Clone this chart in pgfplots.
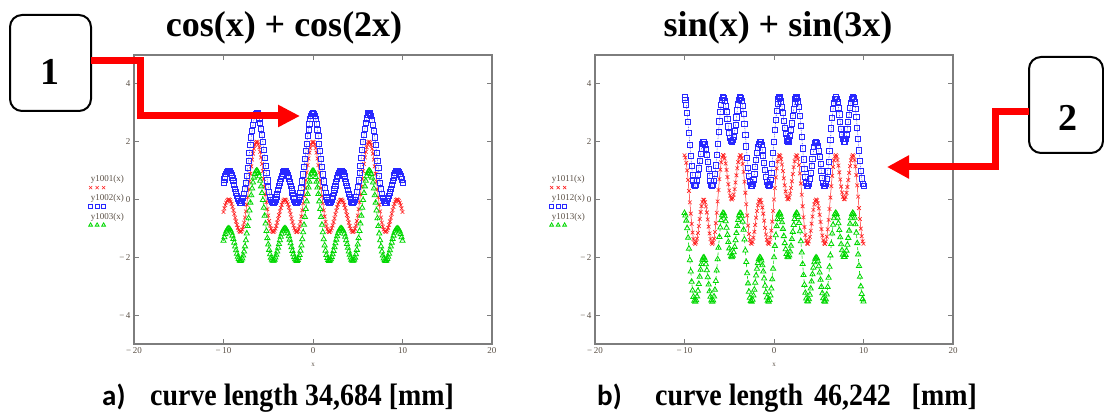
\documentclass[border=0pt]{standalone}
\usepackage{fontspec}
\setmainfont{Liberation Serif}
\newfontfamily\capfont[FakeStretch=0.9]{Liberation Serif}
\newfontfamily\labfont{Carlito}
\usepackage{pgfplots}
\usepackage{pgfplotstable}
\pgfplotsset{compat=1.18}
\usetikzlibrary{arrows.meta}

\definecolor{mcred}{RGB}{255,30,30}
\definecolor{mcblue}{RGB}{40,40,255}
\definecolor{mcgreen}{RGB}{0,215,0}
\definecolor{mcframe}{RGB}{125,125,125}
\definecolor{mctext}{RGB}{90,80,70}

% a = cos(x)+cos(2x), ap/am = a+1 / a-1
% b = sin(x)+sin(3x), bp/bm = b+2 / b-2
\pgfplotstableread{
x a ap am b bp bm
-10.0 -0.431 0.569 -1.431 1.532 3.532 -0.468
-9.9 -0.308 0.692 -1.308 1.447 3.447 -0.553
-9.8 -0.199 0.801 -1.199 1.269 3.269 -0.731
-9.7 -0.110 0.890 -1.110 1.007 3.007 -0.993
-9.6 -0.045 0.955 -1.045 0.676 2.676 -1.324
-9.5 -0.008 0.992 -1.008 0.299 2.299 -1.701
-9.4 -0.001 0.999 -1.001 -0.099 1.901 -2.099
-9.3 -0.023 0.977 -1.023 -0.490 1.510 -2.490
-9.2 -0.074 0.926 -1.074 -0.847 1.153 -2.847
-9.1 -0.151 0.849 -1.151 -1.146 0.854 -3.146
-9.0 -0.251 0.749 -1.251 -1.369 0.631 -3.369
-8.9 -0.367 0.633 -1.367 -1.501 0.499 -3.501
-8.8 -0.495 0.505 -1.495 -1.539 0.461 -3.539
-8.7 -0.628 0.372 -1.628 -1.486 0.514 -3.486
-8.6 -0.757 0.243 -1.757 -1.353 0.647 -3.353
-8.5 -0.877 0.123 -1.877 -1.158 0.842 -3.158
-8.4 -0.980 0.020 -1.980 -0.922 1.078 -2.922
-8.3 -1.059 -0.059 -2.059 -0.672 1.328 -2.672
-8.2 -1.109 -0.109 -2.109 -0.433 1.567 -2.433
-8.1 -1.125 -0.125 -2.125 -0.230 1.770 -2.230
-8.0 -1.103 -0.103 -2.103 -0.084 1.916 -2.084
-7.9 -1.042 -0.042 -2.042 -0.008 1.992 -2.008
-7.8 -0.940 0.060 -1.940 -0.012 1.988 -2.012
-7.7 -0.800 0.200 -1.800 -0.093 1.907 -2.093
-7.6 -0.622 0.378 -1.622 -0.244 1.756 -2.244
-7.5 -0.413 0.587 -1.413 -0.451 1.549 -2.451
-7.4 -0.177 0.823 -1.177 -0.691 1.309 -2.691
-7.3 0.080 1.080 -0.920 -0.941 1.059 -2.941
-7.2 0.349 1.349 -0.651 -1.175 0.825 -3.175
-7.1 0.622 1.622 -0.378 -1.366 0.634 -3.366
-7.0 0.891 1.891 -0.109 -1.494 0.506 -3.494
-6.9 1.147 2.147 0.147 -1.540 0.460 -3.540
-6.8 1.381 2.381 0.381 -1.494 0.506 -3.494
-6.7 1.587 2.587 0.587 -1.354 0.646 -3.354
-6.6 1.756 2.756 0.756 -1.125 0.875 -3.125
-6.5 1.884 2.884 0.884 -0.821 1.179 -2.821
-6.4 1.966 2.966 0.966 -0.460 1.540 -2.460
-6.3 1.999 2.999 0.999 -0.067 1.933 -2.067
-6.2 1.983 2.983 0.983 0.330 2.330 -1.670
-6.1 1.917 2.917 0.917 0.705 2.705 -1.295
-6.0 1.804 2.804 0.804 1.030 3.030 -0.970
-5.9 1.648 2.648 0.648 1.286 3.286 -0.714
-5.8 1.454 2.454 0.454 1.457 3.457 -0.543
-5.7 1.228 2.228 0.228 1.535 3.535 -0.465
-5.6 0.979 1.979 -0.021 1.519 3.519 -0.481
-5.5 0.713 1.713 -0.287 1.417 3.417 -0.583
-5.4 0.440 1.440 -0.560 1.245 3.245 -0.755
-5.3 0.169 1.169 -0.831 1.023 3.023 -0.977
-5.2 -0.092 0.908 -1.092 0.776 2.776 -1.224
-5.1 -0.336 0.664 -1.336 0.529 2.529 -1.471
-5.0 -0.555 0.445 -1.555 0.309 2.309 -1.691
-4.9 -0.744 0.256 -1.744 0.137 2.137 -1.863
-4.8 -0.897 0.103 -1.897 0.031 2.031 -1.969
-4.7 -1.012 -0.012 -2.012 0.001 2.001 -1.999
-4.6 -1.087 -0.087 -2.087 0.050 2.050 -1.950
-4.5 -1.122 -0.122 -2.122 0.174 2.174 -1.826
-4.4 -1.118 -0.118 -2.118 0.360 2.360 -1.640
-4.3 -1.080 -0.080 -2.080 0.589 2.589 -1.411
-4.2 -1.010 -0.010 -2.010 0.838 2.838 -1.162
-4.1 -0.914 0.086 -1.914 1.081 3.081 -0.919
-4.0 -0.799 0.201 -1.799 1.293 3.293 -0.707
-3.9 -0.672 0.328 -1.672 1.450 3.450 -0.550
-3.8 -0.540 0.460 -1.540 1.531 3.531 -0.469
-3.7 -0.410 0.590 -1.410 1.524 3.524 -0.476
-3.6 -0.288 0.712 -1.288 1.423 3.423 -0.577
-3.5 -0.183 0.817 -1.183 1.230 3.230 -0.770
-3.4 -0.097 0.903 -1.097 0.955 2.955 -1.045
-3.3 -0.037 0.963 -1.037 0.615 2.615 -1.385
-3.2 -0.005 0.995 -1.005 0.233 2.233 -1.767
-3.1 -0.003 0.997 -1.003 -0.166 1.834 -2.166
-3.0 -0.030 0.970 -1.030 -0.553 1.447 -2.553
-2.9 -0.085 0.915 -1.085 -0.902 1.098 -2.902
-2.8 -0.167 0.833 -1.167 -1.190 0.810 -3.190
-2.7 -0.269 0.731 -1.269 -1.397 0.603 -3.397
-2.6 -0.388 0.612 -1.388 -1.514 0.486 -3.514
-2.5 -0.517 0.483 -1.517 -1.536 0.464 -3.536
-2.4 -0.650 0.350 -1.650 -1.469 0.531 -3.469
-2.3 -0.778 0.222 -1.778 -1.324 0.676 -3.324
-2.2 -0.896 0.104 -1.896 -1.120 0.880 -3.120
-2.1 -0.995 0.005 -1.995 -0.880 1.120 -2.880
-2.0 -1.070 -0.070 -2.070 -0.630 1.370 -2.630
-1.9 -1.114 -0.114 -2.114 -0.396 1.604 -2.396
-1.8 -1.124 -0.124 -2.124 -0.201 1.799 -2.201
-1.7 -1.096 -0.096 -2.096 -0.066 1.934 -2.066
-1.6 -1.027 -0.027 -2.027 -0.003 1.997 -2.003
-1.5 -0.919 0.081 -1.919 -0.020 1.980 -2.020
-1.4 -0.772 0.228 -1.772 -0.114 1.886 -2.114
-1.3 -0.589 0.411 -1.589 -0.276 1.724 -2.276
-1.2 -0.375 0.625 -1.375 -0.490 1.510 -2.490
-1.1 -0.135 0.865 -1.135 -0.733 1.267 -2.733
-1.0 0.124 1.124 -0.876 -0.983 1.017 -2.983
-0.9 0.394 1.394 -0.606 -1.211 0.789 -3.211
-0.8 0.668 1.668 -0.332 -1.393 0.607 -3.393
-0.7 0.935 1.935 -0.065 -1.507 0.493 -3.507
-0.6 1.188 2.188 0.188 -1.539 0.461 -3.539
-0.5 1.418 2.418 0.418 -1.477 0.523 -3.477
-0.4 1.618 2.618 0.618 -1.321 0.679 -3.321
-0.3 1.781 2.781 0.781 -1.079 0.921 -3.079
-0.2 1.901 2.901 0.901 -0.763 1.237 -2.763
-0.1 1.975 2.975 0.975 -0.395 1.605 -2.395
0.0 2.000 3.000 1.000 0.000 2.000 -2.000
0.1 1.975 2.975 0.975 0.395 2.395 -1.605
0.2 1.901 2.901 0.901 0.763 2.763 -1.237
0.3 1.781 2.781 0.781 1.079 3.079 -0.921
0.4 1.618 2.618 0.618 1.321 3.321 -0.679
0.5 1.418 2.418 0.418 1.477 3.477 -0.523
0.6 1.188 2.188 0.188 1.539 3.539 -0.461
0.7 0.935 1.935 -0.065 1.507 3.507 -0.493
0.8 0.668 1.668 -0.332 1.393 3.393 -0.607
0.9 0.394 1.394 -0.606 1.211 3.211 -0.789
1.0 0.124 1.124 -0.876 0.983 2.983 -1.017
1.1 -0.135 0.865 -1.135 0.733 2.733 -1.267
1.2 -0.375 0.625 -1.375 0.490 2.490 -1.510
1.3 -0.589 0.411 -1.589 0.276 2.276 -1.724
1.4 -0.772 0.228 -1.772 0.114 2.114 -1.886
1.5 -0.919 0.081 -1.919 0.020 2.020 -1.980
1.6 -1.027 -0.027 -2.027 0.003 2.003 -1.997
1.7 -1.096 -0.096 -2.096 0.066 2.066 -1.934
1.8 -1.124 -0.124 -2.124 0.201 2.201 -1.799
1.9 -1.114 -0.114 -2.114 0.396 2.396 -1.604
2.0 -1.070 -0.070 -2.070 0.630 2.630 -1.370
2.1 -0.995 0.005 -1.995 0.880 2.880 -1.120
2.2 -0.896 0.104 -1.896 1.120 3.120 -0.880
2.3 -0.778 0.222 -1.778 1.324 3.324 -0.676
2.4 -0.650 0.350 -1.650 1.469 3.469 -0.531
2.5 -0.517 0.483 -1.517 1.536 3.536 -0.464
2.6 -0.388 0.612 -1.388 1.514 3.514 -0.486
2.7 -0.269 0.731 -1.269 1.397 3.397 -0.603
2.8 -0.167 0.833 -1.167 1.190 3.190 -0.810
2.9 -0.085 0.915 -1.085 0.902 2.902 -1.098
3.0 -0.030 0.970 -1.030 0.553 2.553 -1.447
3.1 -0.003 0.997 -1.003 0.166 2.166 -1.834
3.2 -0.005 0.995 -1.005 -0.233 1.767 -2.233
3.3 -0.037 0.963 -1.037 -0.615 1.385 -2.615
3.4 -0.097 0.903 -1.097 -0.955 1.045 -2.955
3.5 -0.183 0.817 -1.183 -1.230 0.770 -3.230
3.6 -0.288 0.712 -1.288 -1.423 0.577 -3.423
3.7 -0.410 0.590 -1.410 -1.524 0.476 -3.524
3.8 -0.540 0.460 -1.540 -1.531 0.469 -3.531
3.9 -0.672 0.328 -1.672 -1.450 0.550 -3.450
4.0 -0.799 0.201 -1.799 -1.293 0.707 -3.293
4.1 -0.914 0.086 -1.914 -1.081 0.919 -3.081
4.2 -1.010 -0.010 -2.010 -0.838 1.162 -2.838
4.3 -1.080 -0.080 -2.080 -0.589 1.411 -2.589
4.4 -1.118 -0.118 -2.118 -0.360 1.640 -2.360
4.5 -1.122 -0.122 -2.122 -0.174 1.826 -2.174
4.6 -1.087 -0.087 -2.087 -0.050 1.950 -2.050
4.7 -1.012 -0.012 -2.012 -0.001 1.999 -2.001
4.8 -0.897 0.103 -1.897 -0.031 1.969 -2.031
4.9 -0.744 0.256 -1.744 -0.137 1.863 -2.137
5.0 -0.555 0.445 -1.555 -0.309 1.691 -2.309
5.1 -0.336 0.664 -1.336 -0.529 1.471 -2.529
5.2 -0.092 0.908 -1.092 -0.776 1.224 -2.776
5.3 0.169 1.169 -0.831 -1.023 0.977 -3.023
5.4 0.440 1.440 -0.560 -1.245 0.755 -3.245
5.5 0.713 1.713 -0.287 -1.417 0.583 -3.417
5.6 0.979 1.979 -0.021 -1.519 0.481 -3.519
5.7 1.228 2.228 0.228 -1.535 0.465 -3.535
5.8 1.454 2.454 0.454 -1.457 0.543 -3.457
5.9 1.648 2.648 0.648 -1.286 0.714 -3.286
6.0 1.804 2.804 0.804 -1.030 0.970 -3.030
6.1 1.917 2.917 0.917 -0.705 1.295 -2.705
6.2 1.983 2.983 0.983 -0.330 1.670 -2.330
6.3 1.999 2.999 0.999 0.067 2.067 -1.933
6.4 1.966 2.966 0.966 0.460 2.460 -1.540
6.5 1.884 2.884 0.884 0.821 2.821 -1.179
6.6 1.756 2.756 0.756 1.125 3.125 -0.875
6.7 1.587 2.587 0.587 1.354 3.354 -0.646
6.8 1.381 2.381 0.381 1.494 3.494 -0.506
6.9 1.147 2.147 0.147 1.540 3.540 -0.460
7.0 0.891 1.891 -0.109 1.494 3.494 -0.506
7.1 0.622 1.622 -0.378 1.366 3.366 -0.634
7.2 0.349 1.349 -0.651 1.175 3.175 -0.825
7.3 0.080 1.080 -0.920 0.941 2.941 -1.059
7.4 -0.177 0.823 -1.177 0.691 2.691 -1.309
7.5 -0.413 0.587 -1.413 0.451 2.451 -1.549
7.6 -0.622 0.378 -1.622 0.244 2.244 -1.756
7.7 -0.800 0.200 -1.800 0.093 2.093 -1.907
7.8 -0.940 0.060 -1.940 0.012 2.012 -1.988
7.9 -1.042 -0.042 -2.042 0.008 2.008 -1.992
8.0 -1.103 -0.103 -2.103 0.084 2.084 -1.916
8.1 -1.125 -0.125 -2.125 0.230 2.230 -1.770
8.2 -1.109 -0.109 -2.109 0.433 2.433 -1.567
8.3 -1.059 -0.059 -2.059 0.672 2.672 -1.328
8.4 -0.980 0.020 -1.980 0.922 2.922 -1.078
8.5 -0.877 0.123 -1.877 1.158 3.158 -0.842
8.6 -0.757 0.243 -1.757 1.353 3.353 -0.647
8.7 -0.628 0.372 -1.628 1.486 3.486 -0.514
8.8 -0.495 0.505 -1.495 1.539 3.539 -0.461
8.9 -0.367 0.633 -1.367 1.501 3.501 -0.499
9.0 -0.251 0.749 -1.251 1.369 3.369 -0.631
9.1 -0.151 0.849 -1.151 1.146 3.146 -0.854
9.2 -0.074 0.926 -1.074 0.847 2.847 -1.153
9.3 -0.023 0.977 -1.023 0.490 2.490 -1.510
9.4 -0.001 0.999 -1.001 0.099 2.099 -1.901
9.5 -0.008 0.992 -1.008 -0.299 1.701 -2.299
9.6 -0.045 0.955 -1.045 -0.676 1.324 -2.676
9.7 -0.110 0.890 -1.110 -1.007 0.993 -3.007
9.8 -0.199 0.801 -1.199 -1.269 0.731 -3.269
9.9 -0.308 0.692 -1.308 -1.447 0.553 -3.447
10.0 -0.431 0.569 -1.431 -1.532 0.468 -3.532
}\waves

\pgfplotsset{
  mcadaxis/.style={
    scale only axis,
    width=358pt, height=289pt,
    xmin=-20, xmax=20, ymin=-5, ymax=5,
    xtick={-20,-10,0,10,20}, ytick={-4,-2,0,2,4},
    xticklabels={−\,20,−\,10,0,10,20},
    yticklabels={−\,4,−\,2,0,2,4},
    axis line style={mcframe, line width=1.4pt},
    tick style={mcframe, line width=0.8pt},
    major tick length=5pt,
    ticklabel style={font=\fontsize{9}{9}\selectfont, text=mctext},
    xlabel={x},
    xlabel style={font=\fontsize{7}{7}\selectfont, text=mctext, yshift=-3pt},
    legend style={draw=none, fill=none, inner sep=0pt,
      font=\fontsize{9}{9}\selectfont, text=mctext,
      row sep=7pt, column sep=0pt,
      at={(-0.022,0.59)}, anchor=north east},
    legend cell align=left,
    legend image code/.code={
      \path (0,0);
      \draw[##1, overlay] plot[only marks, mark size=2.2pt]
        coordinates {(2pt,-8pt)(8.5pt,-8pt)(15pt,-8pt)};
    },
  },
  redser/.style={mcred, line width=0.5pt, mark=x, mark size=2.6pt,
    mark options={line width=0.6pt}},
  blueser/.style={mcblue, line width=0.6pt, densely dotted, mark=square,
    mark size=2.6pt, mark options={solid, line width=0.8pt}},
  greenser/.style={mcgreen, line width=0.6pt, dashed, mark=triangle,
    mark size=3pt, mark options={solid, line width=0.8pt}},
}
\tikzset{
  capstyle/.style={font=\capfont\bfseries\fontsize{31}{31}\selectfont, inner sep=0pt},
  labstyle/.style={font=\labfont\bfseries\fontsize{29}{29}\selectfont, inner sep=0pt},
}

\begin{document}
\begin{tikzpicture}
\useasboundingbox (0pt,0pt) rectangle (1104pt,419pt);

\begin{axis}[mcadaxis, at={(134pt,75pt)}, anchor=south west]
  \addplot[redser] table[x=x, y=a] {\waves};
  \addlegendentry{y1001(x)}
  \addplot[blueser] table[x=x, y=ap] {\waves};
  \addlegendentry{y1002(x)}
  \addplot[greenser] table[x=x, y=am] {\waves};
  \addlegendentry{y1003(x)}
\end{axis}

\begin{axis}[mcadaxis, at={(595pt,75pt)}, anchor=south west]
  \addplot[redser] table[x=x, y=b] {\waves};
  \addlegendentry{y1011(x)}
  \addplot[blueser] table[x=x, y=bp] {\waves};
  \addlegendentry{y1012(x)}
  \addplot[greenser] table[x=x, y=bm] {\waves};
  \addlegendentry{y1013(x)}
\end{axis}

% titles
\node[font=\bfseries\fontsize{36}{36}\selectfont] at (284pt,391pt) {cos(x) + cos(2x)};
\node[font=\bfseries\fontsize{36}{36}\selectfont] at (778pt,391pt) {sin(x) + sin(3x)};

% numbered boxes
\draw[line width=2pt, rounded corners=12pt] (10pt,404pt) rectangle (91pt,308pt);
\node[font=\bfseries\fontsize{38}{38}\selectfont] at (50pt,347pt) {1};
\draw[line width=2pt, rounded corners=12pt] (1029pt,362pt) rectangle (1103pt,266pt);
\node[font=\bfseries\fontsize{38}{38}\selectfont] at (1068pt,301pt) {2};

% red arrows
\draw[red, line width=7pt, line join=miter, -{Triangle[length=22pt, width=21pt]}]
  (91pt,358pt) -- (140pt,358pt) -- (140pt,303pt) -- (300pt,303pt);
\draw[red, line width=7pt, line join=miter, -{Triangle[length=22pt, width=22pt]}]
  (1029pt,307pt) -- (995pt,307pt) -- (995pt,252pt) -- (887pt,252pt);

% captions
\node[labstyle, anchor=base west] at (102pt,13pt) {a)};
\node[capstyle, anchor=base west] at (150pt,13pt) {curve length 34,684 [mm]};
\node[labstyle, anchor=base west] at (597pt,13pt) {b)};
\node[capstyle, anchor=base west] at (655pt,13pt) {curve length};
\node[capstyle, anchor=base west] at (814pt,13pt) {46,242};
\node[capstyle, anchor=base east] at (977pt,13pt) {[mm]};
\end{tikzpicture}
\end{document}
